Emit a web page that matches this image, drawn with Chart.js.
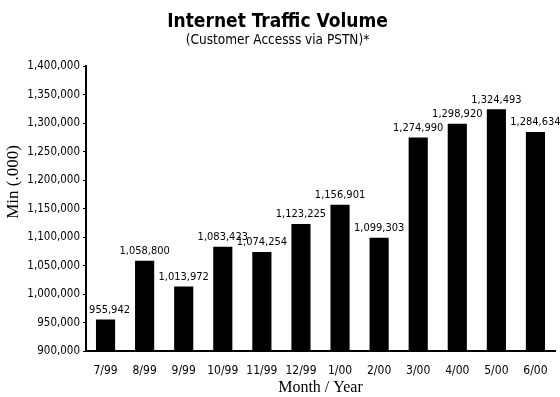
<!DOCTYPE html>
<html lang="en">
<head>
  <meta charset="UTF-8">
  <title>Internet Traffic Volume</title>
  <style>
    html, body {
      margin: 0;
      padding: 0;
      background: #fff;
    }
    #wrap {
      width: 560px;
      height: 397px;
    }
  </style>
  <script src="https://cdn.jsdelivr.net/npm/chart.js"></script>
</head>
<body>
  <div id="wrap">
    <canvas id="trafficChart" width="560" height="397"></canvas>
  </div>

  <script>
    const months = ['7/99', '8/99', '9/99', '10/99', '11/99', '12/99', '1/00', '2/00', '3/00', '4/00', '5/00', '6/00'];
    const minutes = [955942, 1058800, 1013972, 1083423, 1074254, 1123225, 1156901, 1099303, 1274990, 1298920, 1324493, 1284634];
    const yTicks = [900000, 950000, 1000000, 1050000, 1100000, 1150000, 1200000, 1250000, 1300000, 1350000, 1400000];

    const narrow = '"Liberation Sans Narrow", "DejaVu Sans Condensed", Arial, sans-serif';
    const serif = '"Liberation Serif", "DejaVu Serif", serif';

    const fmt = (v) => v.toLocaleString('en-US');

    // Value labels above each bar
    const barLabels = {
      id: 'barLabels',
      afterDatasetsDraw(chart) {
        const ctx = chart.ctx;
        const meta = chart.getDatasetMeta(0);
        ctx.save();
        ctx.font = '11px ' + narrow;
        ctx.fillStyle = '#000';
        ctx.textAlign = 'center';
        ctx.textBaseline = 'bottom';
        meta.data.forEach((bar, i) => {
          // first label would run into the axis line, nudge it right
          const dx = i === 0 ? 4 : 0;
          ctx.fillText(fmt(minutes[i]), bar.x + dx, bar.y - 4);
        });
        ctx.restore();
      }
    };

    // Rotated y-axis caption, sits a bit above the middle of the axis
    const yCaption = {
      id: 'yCaption',
      afterDraw(chart) {
        const ctx = chart.ctx;
        ctx.save();
        ctx.translate(14, 182);
        ctx.rotate(-Math.PI / 2);
        ctx.font = '17px ' + serif;
        ctx.fillStyle = '#000';
        ctx.textAlign = 'center';
        ctx.textBaseline = 'middle';
        ctx.fillText('Min (.000)', 0, 0);
        ctx.restore();
      }
    };

    new Chart(document.getElementById('trafficChart'), {
      type: 'bar',
      data: {
        labels: months,
        datasets: [{
          data: minutes,
          backgroundColor: '#000',
          borderWidth: 0,
          categoryPercentage: 1.0,
          barPercentage: 0.49
        }]
      },
      options: {
        responsive: false,
        animation: false,
        layout: {
          padding: { left: 0, right: 5, top: 0, bottom: 0 }
        },
        plugins: {
          legend: { display: false },
          tooltip: { enabled: false },
          title: {
            display: true,
            text: 'Internet Traffic Volume',
            color: '#000',
            font: { family: narrow, size: 19, weight: 'bold', lineHeight: 1.0 },
            padding: { top: 13, bottom: 0 }
          },
          subtitle: {
            display: true,
            text: '(Customer Accesss via PSTN)*',
            color: '#000',
            font: { family: narrow, size: 13.5, lineHeight: 1.2 },
            padding: { top: 0, bottom: 18 }
          }
        },
        scales: {
          x: {
            grid: { display: false, drawTicks: false },
            border: { display: true, color: '#000', width: 2 },
            ticks: {
              color: '#000',
              padding: 12,
              font: { family: narrow, size: 12 },
              maxRotation: 0,
              autoSkip: false
            },
            title: {
              display: true,
              text: 'Month / Year',
              color: '#000',
              font: { family: serif, size: 16 },
              padding: { top: -12, bottom: 0 }
            }
          },
          y: {
            min: 900000,
            max: 1400000,
            afterBuildTicks(axis) {
              axis.ticks = yTicks.map(v => ({ value: v }));
            },
            afterFit(axis) {
              axis.width = 86;
            },
            grid: { drawOnChartArea: false, drawTicks: true, tickLength: 3, color: '#000' },
            border: { display: true, color: '#000', width: 2 },
            ticks: {
              color: '#000',
              padding: 3,
              font: { family: narrow, size: 11.5 },
              callback: (v) => fmt(v)
            }
          }
        }
      },
      plugins: [barLabels, yCaption]
    });
  </script>
</body>
</html>
